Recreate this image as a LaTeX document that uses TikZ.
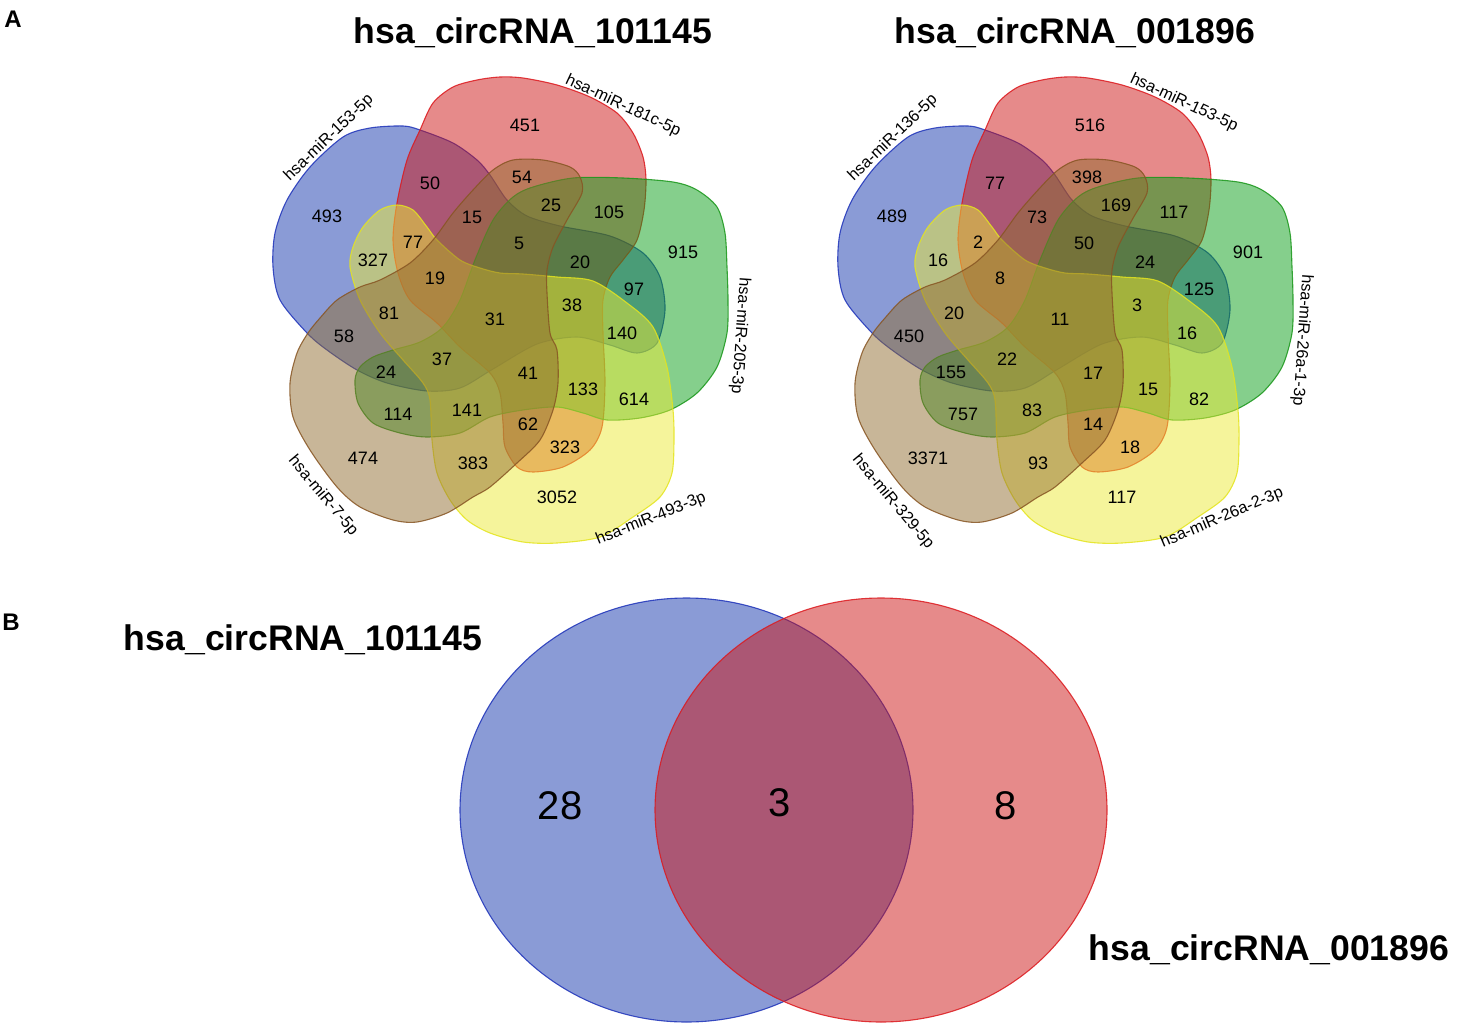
\documentclass[tikz,border=0pt]{standalone}
\usepackage{fontspec}
\setmainfont{Liberation Sans}

\definecolor{vblue}{RGB}{21,55,173}
\definecolor{vred}{RGB}{205,21,21}
\definecolor{vgreen}{RGB}{11,159,25}
\definecolor{vyellow}{RGB}{236,234,55}
\definecolor{vbrown}{RGB}{145,109,49}
\definecolor{lblue}{RGB}{30,50,185}
\definecolor{lred}{RGB}{220,25,30}
\definecolor{lgreen}{RGB}{25,150,25}
\definecolor{lyellow}{RGB}{228,228,30}
\definecolor{lbrown}{RGB}{135,85,35}

% the five blobs of one five-set diagram
\newcommand\blueblob{(403,126) (420,130) (453,143) (477,160) (490,175) (507,200)
  (527,216) (560,226) (610,236) (643,253) (660,277) (665,310) (657,343) (637,353)
  (610,345) (577,337) (537,344) (493,369) (460,388) (427,391) (387,383) (357,370)
  (327,350) (307,333) (280,300) (273,267) (275,233) (287,200) (310,167) (343,137)
  (370,128)}
\newcommand\redblob{(433,103) (453,87) (477,80) (500,77) (523,78) (557,85) (590,97)
  (617,113) (633,133) (643,157) (646,180) (644,210) (637,240) (623,260) (610,277)
  (603,300) (603,333) (605,383) (602,427) (590,450) (563,467) (533,472) (517,467)
  (505,447) (503,423) (500,393) (490,373) (460,347) (437,323) (410,300) (398,273)
  (393,240) (397,203) (407,160) (420,130)}
\newcommand\greenblob{(513,197) (533,187) (573,178) (623,178) (673,182) (697,190)
  (717,207) (725,233) (727,267) (728,300) (727,333) (717,367) (697,393) (670,410)
  (640,418) (607,420) (583,413) (557,407) (523,410) (490,417) (460,433) (427,437)
  (400,433) (373,423) (358,403) (355,380) (360,367) (373,357) (393,350) (420,342)
  (443,327) (460,300) (475,260) (493,220)}
\newcommand\yellowblob{(397,205) (413,210) (427,227) (437,240) (460,260) (480,268)
  (500,273) (523,274) (557,277) (593,281) (627,303) (653,327) (667,367) (673,410)
  (674,440) (672,473) (660,497) (633,517) (600,537) (557,543) (523,542) (490,533)
  (467,520) (450,500) (437,473) (432,440) (430,400) (423,383) (403,360) (380,333)
  (360,300) (350,267) (353,247) (363,227) (380,210)}
\newcommand\brownblob{(308,333) (320,318) (337,300) (360,287) (380,280) (410,263)
  (433,240) (453,213) (473,190) (493,170) (513,160) (543,160) (570,167) (580,177)
  (582,193) (567,220) (553,247) (547,270) (547,293) (550,333) (557,350) (558,383)
  (553,410) (540,440) (517,463) (490,487) (473,497) (447,513) (417,522) (393,520)
  (360,507) (337,487) (310,450) (293,417) (290,383) (297,353)}
\newcommand\drawblobs{%
  \draw[venn, fill=vblue, draw=lblue] plot[smooth cycle] coordinates {\blueblob};
  \draw[venn, fill=vred, draw=lred] plot[smooth cycle] coordinates {\redblob};
  \draw[venn, fill=vgreen, draw=lgreen] plot[smooth cycle] coordinates {\greenblob};
  \draw[venn, fill=vyellow, draw=lyellow] plot[smooth cycle] coordinates {\yellowblob};
  \draw[venn, fill=vbrown, draw=lbrown] plot[smooth cycle] coordinates {\brownblob};}

\tikzset{
  venn/.style={fill opacity=0.5, draw opacity=0.85, line width=1.1pt},
  num/.style={font=\fontsize{18}{20}\selectfont},
  bignum/.style={font=\fontsize{40}{44}\selectfont},
  setname/.style={font=\fontsize{16.3}{18}\selectfont},
  title/.style={font=\fontsize{35.6}{40}\selectfont\bfseries},
  panel/.style={font=\fontsize{24}{26}\selectfont\bfseries}
}

\begin{document}
\begin{tikzpicture}[x=1pt,y=-1pt]
\useasboundingbox (0,0) rectangle (1472,1030);

\node[panel] (panelA) at (13,19) {A};
\node[panel] (panelB) at (11,622) {B};

% A, left: hsa_circRNA_101145
\node[title] (titleL) at (533,33) {hsa\_circRNA\_101145};
\begin{scope}
  \drawblobs
  \foreach \x/\y/\v [count=\i] in {525/125/451, 430/183/50, 522/177/54, 327/216/493,
      472/217/15, 551/205/25, 609/212/105, 413/242/77, 519/243/5, 373/260/327,
      683/252/915, 580/262/20, 435/278/19, 634/289/97, 572/305/38, 495/319/31,
      389/313/81, 622/333/140, 344/336/58, 442/359/37, 386/372/24, 528/373/41,
      583/389/133, 634/399/614, 398/414/114, 467/410/141, 528/424/62, 565/447/323,
      363/458/474, 473/463/383, 557/497/3052}
    \node[num] (l\i) at (\x,\y) {\v};
  \node[setname, rotate=44] (lblue) at (329,138) {hsa-miR-153-5p};
  \node[setname, rotate=-25] (lred) at (623,106) {hsa-miR-181c-5p};
  \node[setname, rotate=-94] (lgreen) at (740,336) {hsa-miR-205-3p};
  \node[setname, rotate=22] (lyellow) at (651,519) {hsa-miR-493-3p};
  \node[setname, rotate=-50] (lbrown) at (323,496) {hsa-miR-7-5p};
\end{scope}

% A, right: hsa_circRNA_001896
\node[title] (titleR) at (1075,33) {hsa\_circRNA\_001896};
\begin{scope}[xshift=565]
  \drawblobs
  \foreach \x/\y/\v [count=\i] in {525/125/516, 430/183/77, 522/177/398, 327/216/489,
      472/217/73, 551/205/169, 609/212/117, 413/242/2, 519/243/50, 373/260/16,
      683/252/901, 580/262/24, 435/278/8, 634/289/125, 572/305/3, 495/319/11,
      389/313/20, 622/333/16, 344/336/450, 442/359/22, 386/372/155, 528/373/17,
      583/389/15, 634/399/82, 398/414/757, 467/410/83, 528/424/14, 565/447/18,
      363/458/3371, 473/463/93, 557/497/117}
    \node[num] (r\i) at (\x,\y) {\v};
  \node[setname, rotate=44] (rblue) at (328,138) {hsa-miR-136-5p};
  \node[setname, rotate=-25] (rred) at (619,103) {hsa-miR-153-5p};
  \node[setname, rotate=-94] (rgreen) at (737,340) {hsa-miR-26a-1-3p};
  \node[setname, rotate=23] (ryellow) at (657,518) {hsa-miR-26a-2-3p};
  \node[setname, rotate=-50] (rbrown) at (328,502) {hsa-miR-329-5p};
\end{scope}

% B
\draw[venn, fill=vblue, draw=lblue] (686.5,810) ellipse [x radius=226.5, y radius=212];
\draw[venn, fill=vred, draw=lred] (881,810) ellipse [x radius=226, y radius=212];
\node[bignum] (onlyL) at (560,806) {28};
\node[bignum] (both) at (780,803) {3};
\node[bignum] (onlyR) at (1006,806) {8};
\node[title] (nameL) at (303,640) {hsa\_circRNA\_101145};
\node[title] (nameR) at (1269,950) {hsa\_circRNA\_001896};
\end{tikzpicture}
\end{document}
